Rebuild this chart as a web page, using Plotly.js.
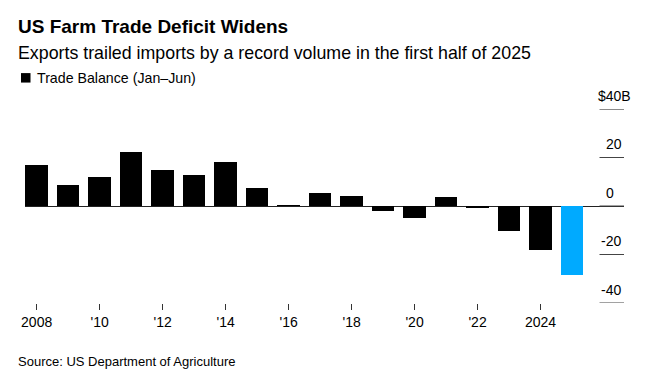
<!DOCTYPE html>
<html>
<head>
<meta charset="utf-8">
<script src="https://cdn.plot.ly/plotly-3.0.1.min.js"></script>
<style>
html,body{margin:0;padding:0;background:#fff;}
#chart{width:655px;height:385px;}
</style>
</head>
<body>
<div id="chart"></div>
<script>
// ---- data ----
const years = [2008,2009,2010,2011,2012,2013,2014,2015,2016,2017,2018,2019,2020,2021,2022,2023,2024,2025];
const tradeBalance = [17.1,8.6,12.1,22.4,15.0,12.9,18.3,7.4,0.5,5.2,4.0,-2.2,-4.9,3.7,-0.8,-10.3,-18.3,-28.6];
const highlightYears = [2025];
const xTickVals = [2008,2010,2012,2014,2016,2018,2020,2022,2024];
const xTickText = ["2008","'10","'12","'14","'16","'18","'20","'22","2024"];
const yTickVals = [40,20,0,-20,-40];
const yTickPrefix = ["$","","","-","-"];
const yTickBody = ["40B","20","0","20","40"];

const FONT = "Liberation Sans, Arial, Helvetica, sans-serif";
const barColors = years.map(y => highlightYears.includes(y) ? "#00AAFF" : "#000000");

// pixel helpers (plot area: left 25, right 624, top 109, bottom 303.5)
const L = 25, R = 624, T = 109, B = 303.5;
const px = p => (p - L) / (R - L);
const py = p => (B - p) / (B - T);

const trace = {
  type: "bar",
  x: years,
  y: tradeBalance,
  width: 0.71,
  marker: {color: barColors, line: {width: 0}},
  hoverinfo: "x+y"
};

const shapes = [];
const annotations = [];
const YFS = 14;
const prefixW = {"$": 0.556 * YFS, "-": 0.333 * YFS, "": 0};

// short right-side grid segments + labels (digits start at a fixed x, sign/currency hang left)
yTickVals.forEach((v, i) => {
  shapes.push({
    type: "line", xref: "paper", yref: "y",
    x0: px(599.5), x1: 1, y0: v, y1: v,
    line: {color: i === 0 ? "#8a8a8a" : "#444444", width: i === 0 ? 2 : 1}
  });
  annotations.push({
    xref: "paper", yref: "y", x: px(606 - prefixW[yTickPrefix[i]]), y: v,
    text: yTickPrefix[i] + yTickBody[i], showarrow: false,
    xanchor: "left", yanchor: "middle", yshift: 13.5,
    borderpad: 0, borderwidth: 0,
    font: {family: FONT, size: YFS, color: "#000"}
  });
});

// legend key square
shapes.push({
  type: "rect", xref: "paper", yref: "paper",
  x0: px(21), x1: px(30.5), y0: py(82.5), y1: py(73),
  fillcolor: "#000", line: {width: 0}
});

// title, subtitle, legend text, source
const txt = (x, y, text, size) => ({
  xref: "paper", yref: "paper", x: px(x), y: py(y),
  text: text, showarrow: false, xanchor: "left", yanchor: "middle",
  borderpad: 0, borderwidth: 0,
  font: {family: FONT, size: size, color: "#000"}
});
annotations.push(txt(18, 26.7, "<b>US Farm Trade Deficit Widens</b>", 19));
annotations.push(txt(18, 52.5, "Exports trailed imports by a record volume in the first half of 2025", 17.8));
annotations.push(txt(36.5, 77.5, "Trade Balance (Jan–Jun)", 14.2));
annotations.push(txt(18, 362.3, "Source: US Department of Agriculture", 13));

const layout = {
  width: 655, height: 385,
  margin: {l: L, r: 655 - R, t: T, b: 385 - B, pad: 0},
  paper_bgcolor: "#fff", plot_bgcolor: "#fff",
  showlegend: false,
  bargap: 0,
  xaxis: {
    range: [2007.63, 2026.65],
    tickvals: xTickVals, ticktext: xTickText,
    ticks: "outside", ticklen: 6, tickwidth: 1, tickcolor: "#333",
    showgrid: false, zeroline: false, showline: false,
    tickfont: {family: FONT, size: 14, color: "#000"},
    fixedrange: true
  },
  yaxis: {
    range: [-40, 40],
    showticklabels: false, ticks: "",
    showgrid: false, showline: false,
    zeroline: true, zerolinecolor: "#222", zerolinewidth: 1,
    fixedrange: true
  },
  shapes: shapes,
  annotations: annotations
};

Plotly.newPlot("chart", [trace], layout, {displayModeBar: false, staticPlot: true});
</script>
</body>
</html>
